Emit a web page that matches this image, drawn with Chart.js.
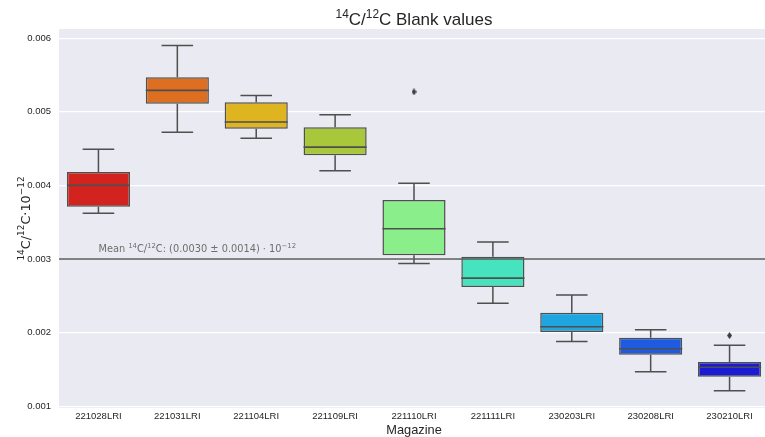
<!DOCTYPE html>
<html>
<head>
<meta charset="utf-8">
<script src="https://cdn.jsdelivr.net/npm/chart.js@4"></script>
<style>
  html, body { margin: 0; padding: 0; background: #fff; overflow: hidden; }
  canvas { display: block; }
</style>
</head>
<body>
<canvas id="chart" width="769" height="437" style="width:769px;height:437px"></canvas>
<script>
// Blank measurements per magazine: box statistics (14C/12C, ×10^-12)
const magazines  = ['221028LRI', '221031LRI', '221104LRI', '221109LRI', '221110LRI',
                    '221111LRI', '230203LRI', '230208LRI', '230210LRI'];
const whiskerLow  = [0.00362, 0.00472, 0.00464, 0.00420, 0.00294, 0.00240, 0.00188, 0.00147, 0.00121];
const quartile1   = [0.00371, 0.00511, 0.00477, 0.00441, 0.00305, 0.00262, 0.00201, 0.00170, 0.00140];
const medians     = [0.00400, 0.00529, 0.00486, 0.00452, 0.00341, 0.00274, 0.00208, 0.00178, 0.00153];
const quartile3   = [0.00418, 0.00547, 0.00513, 0.00479, 0.00380, 0.00303, 0.00227, 0.00193, 0.00160];
const whiskerHigh = [0.00449, 0.00590, 0.00522, 0.00496, 0.00403, 0.00323, 0.00251, 0.00204, 0.00183];
const outliers    = [null, null, null, null, 0.00527, null, null, null, 0.00196];
const boxColors   = ['#d3231f', '#de6f21', '#deb421', '#a8c73b', '#8aee8a',
                     '#46e3be', '#1fa6e0', '#1e5be0', '#1b1bd3'];
const yTicks      = [0.001, 0.002, 0.003, 0.004, 0.005, 0.006];
const meanValue   = 0.0030;
const meanStd     = 0.0014;

const SANS = "'Liberation Sans', Arial, sans-serif";
const MATH = "'DejaVu Sans', sans-serif";
const INK = '#262626';
const LINE = '#4f4f4f';

// Thin diamond marker for outliers
function thinDiamond(w, h, color) {
  const c = document.createElement('canvas');
  c.width = w; c.height = h;
  const g = c.getContext('2d');
  g.fillStyle = color;
  g.beginPath();
  g.moveTo(w / 2, 0); g.lineTo(w, h / 2); g.lineTo(w / 2, h); g.lineTo(0, h / 2);
  g.closePath();
  g.fill();
  return c;
}

// Draw text made of runs, where superscript runs are smaller and raised
function drawRich(ctx, runs, x, y, size, family, color, align) {
  const supSize = size * 0.7;
  const fontOf = sup => `${sup ? supSize : size}px ${family}`;
  let total = 0;
  runs.forEach(([t, sup]) => { ctx.font = fontOf(sup); total += ctx.measureText(t).width; });
  let cx = align === 'center' ? x - total / 2 : x;
  ctx.fillStyle = color;
  ctx.textAlign = 'left';
  ctx.textBaseline = 'alphabetic';
  runs.forEach(([t, sup]) => {
    ctx.font = fontOf(sup);
    ctx.fillText(t, cx, sup ? y - size * 0.4 : y);
    cx += ctx.measureText(t).width;
  });
}

const boxPlotPlugin = {
  id: 'boxPlot',
  beforeDraw(chart) {
    const { ctx, chartArea: a } = chart;
    ctx.save();
    ctx.fillStyle = '#eaeaf2';
    ctx.fillRect(a.left, a.top, a.right - a.left, a.bottom - a.top);
    ctx.restore();
  },
  beforeDatasetsDraw(chart) {
    // whiskers and caps, drawn beneath the boxes
    const { ctx } = chart;
    const y = chart.scales.y;
    const bars = chart.getDatasetMeta(0).data;
    ctx.save();
    ctx.strokeStyle = LINE;
    ctx.lineWidth = 1.5;
    bars.forEach((bar, i) => {
      const cx = bar.x;
      const half = bar.width / 4;
      const yHi = y.getPixelForValue(whiskerHigh[i]);
      const yLo = y.getPixelForValue(whiskerLow[i]);
      ctx.beginPath();
      ctx.moveTo(cx, yHi); ctx.lineTo(cx, y.getPixelForValue(quartile3[i]));
      ctx.moveTo(cx, y.getPixelForValue(quartile1[i])); ctx.lineTo(cx, yLo);
      ctx.moveTo(cx - half, yHi); ctx.lineTo(cx + half, yHi);
      ctx.moveTo(cx - half, yLo); ctx.lineTo(cx + half, yLo);
      ctx.stroke();
    });
    ctx.restore();
  },
  afterDatasetsDraw(chart) {
    const { ctx, chartArea: a } = chart;
    const x = chart.scales.x;
    const y = chart.scales.y;
    const bars = chart.getDatasetMeta(0).data;
    ctx.save();
    // medians
    ctx.strokeStyle = LINE;
    ctx.lineWidth = 1.6;
    bars.forEach((bar, i) => {
      const my = y.getPixelForValue(medians[i]);
      ctx.beginPath();
      ctx.moveTo(bar.x - bar.width / 2, my);
      ctx.lineTo(bar.x + bar.width / 2, my);
      ctx.stroke();
    });
    // overall mean line and its label
    const meanY = y.getPixelForValue(meanValue);
    ctx.strokeStyle = '#5a5a5a';
    ctx.lineWidth = 1.3;
    ctx.beginPath();
    ctx.moveTo(a.left, meanY);
    ctx.lineTo(a.right, meanY);
    ctx.stroke();
    drawRich(ctx, [
      ['Mean ', 0], ['14', 1], ['C/', 0], ['12', 1],
      [`C: (${meanValue.toFixed(4)} \u00B1 ${meanStd.toFixed(4)}) \u00B7 10`, 0], ['\u221212', 1]
    ], x.getPixelForValue(0), meanY - 7, 9.8, MATH, '#6e6e6e', 'left');
    ctx.restore();
  },
  afterDraw(chart) {
    const { ctx, chartArea: a } = chart;
    ctx.save();
    // chart title
    drawRich(ctx, [['14', 1], ['C/', 0], ['12', 1], ['C Blank values', 0]],
      (a.left + a.right) / 2, 25, 17, SANS, INK, 'center');
    // y axis title, rotated
    ctx.translate(29.5, (a.top + a.bottom) / 2);
    ctx.rotate(-Math.PI / 2);
    drawRich(ctx, [['14', 1], ['C/', 0], ['12', 1], ['C\u00B710', 0], ['\u221212', 1]],
      0, 0, 12.8, MATH, INK, 'center');
    ctx.restore();
  }
};

new Chart(document.getElementById('chart'), {
  type: 'bar',
  data: {
    labels: magazines,
    datasets: [
      {
        data: magazines.map((_, i) => [quartile1[i], quartile3[i]]),
        backgroundColor: boxColors,
        borderColor: LINE,
        borderWidth: 1.5,
        borderSkipped: false,
        barPercentage: 0.8,
        categoryPercentage: 1.0,
        order: 2
      },
      {
        type: 'line',
        data: outliers,
        showLine: false,
        pointStyle: thinDiamond(5, 7, '#3d3d3d'),
        pointRadius: 3,
        order: 1
      }
    ]
  },
  options: {
    responsive: false,
    animation: false,
    devicePixelRatio: 1,
    layout: { autoPadding: false, padding: { top: 29, left: 0, right: 0, bottom: 0 } },
    plugins: { legend: { display: false }, tooltip: { enabled: false }, title: { display: false } },
    scales: {
      x: {
        offset: true,
        grid: { display: false, drawTicks: false, tickLength: 0 },
        border: { display: false },
        ticks: { color: INK, font: { family: SANS, size: 9.5 }, padding: 3, maxRotation: 0, autoSkip: false },
        title: { display: true, text: 'Magazine', color: INK, font: { family: SANS, size: 12.8 }, padding: { top: 0, bottom: -1 } },
        afterFit(s) { s.height = 29; }
      },
      y: {
        min: 0.000976,
        max: 0.006124,
        grid: { color: '#ffffff', lineWidth: 1.2, drawTicks: false, tickLength: 0 },
        border: { display: false },
        ticks: {
          color: INK, font: { family: SANS, size: 9.5 }, padding: 8,
          callback: v => v.toFixed(3)
        },
        afterBuildTicks(s) { s.ticks = yTicks.map(v => ({ value: v })); },
        afterFit(s) { s.width = 59; }
      }
    }
  },
  plugins: [boxPlotPlugin]
});
</script>
</body>
</html>
